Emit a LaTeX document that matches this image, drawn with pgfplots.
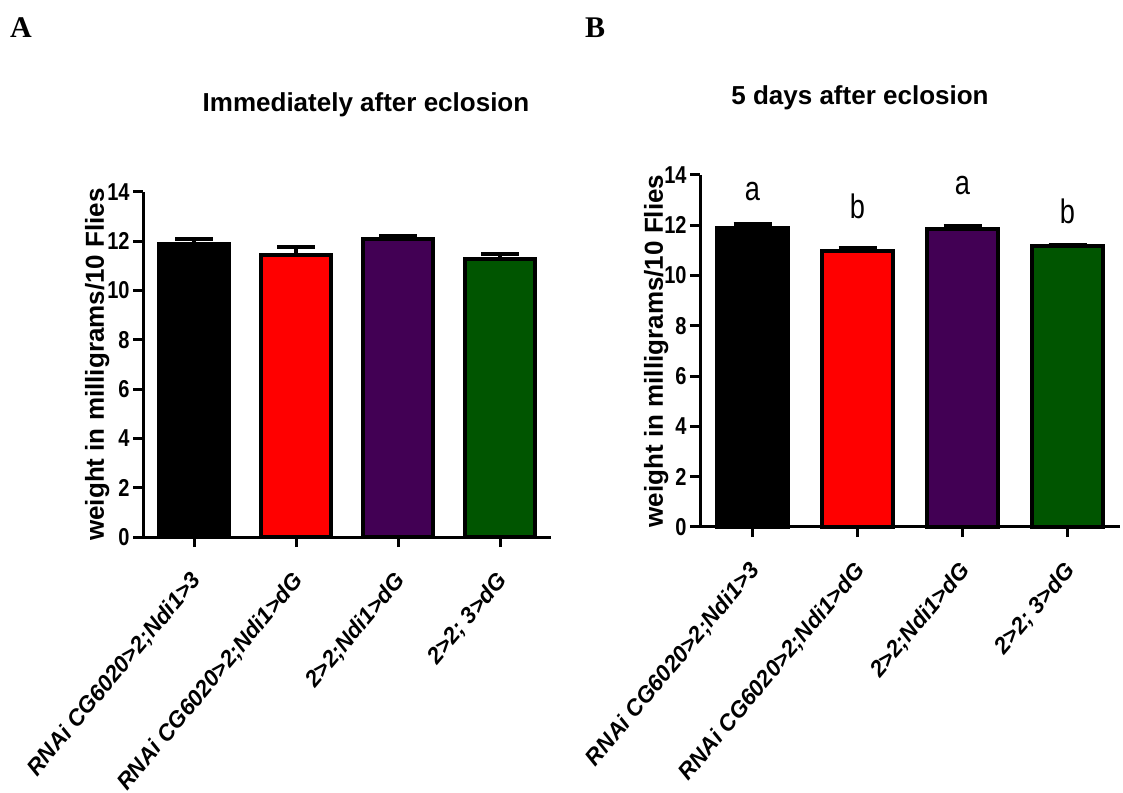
\documentclass[border=0pt]{standalone}
\usepackage{pgfplots}
\pgfplotsset{compat=1.18}
\usepackage{fontspec}
\setmainfont{Liberation Sans}
\newfontfamily\narrowfont[FakeStretch=0.82]{Liberation Sans}
\newfontfamily\tallfont[FakeStretch=0.8]{Liberation Sans}
\newfontfamily\panelfont{Liberation Serif}

\definecolor{barpurple}{RGB}{66,0,84}
\definecolor{bargreen}{RGB}{0,85,0}

\pgfplotsset{
  flyaxis/.style={
    scale only axis,
    ymin=0, ymax=14, xmin=-0.5, xmax=3.5,
    ytick={0,2,...,14}, yticklabels={0,2,4,6,8,10,12,14},
    xtick={0,1,2,3},
    xticklabels={RNAi CG6020>2;Ndi1>3, RNAi CG6020>2;Ndi1>dG, 2>2;Ndi1>dG, 2>2; 3>dG},
    axis x line*=bottom, axis y line*=left,
    axis line style={-, line width=1.5pt},
    every tick/.style={black, line width=1.5pt},
    major tick length=5pt,
    tick align=outside,
    yticklabel style={font=\narrowfont\bfseries\fontsize{12.2}{12}\selectfont, inner sep=1.5pt},
    xticklabel style={font=\bfseries\itshape\fontsize{11.4}{12}\selectfont, xshift=-2.5pt, yshift=-10pt, rotate=50, anchor=north east, inner sep=1pt},
    ylabel={weight in milligrams/10 Flies},
    ybar, bar width=0.68, bar shift=0pt,
    clip=false,
  },
  flyylabel/.style={every axis y label/.style={at={(axis description cs:#1,0.5)}, rotate=90, anchor=center, font=\bfseries\fontsize{13}{13}\selectfont}},
  flybar/.style={draw=black, line width=2pt, fill=#1,
    error bars/.cd, y dir=plus, y explicit,
    error bar style={line width=2pt, black},
    error mark options={rotate=90, mark size=9.5pt, line width=2pt, black}},
}

\begin{document}
\begin{tikzpicture}
\useasboundingbox (0,0) rectangle (561.5pt,396pt);

% panel letters and titles
\node[font=\panelfont\bfseries\fontsize{15}{15}\selectfont] at (10.5pt,382pt) {A};
\node[font=\panelfont\bfseries\fontsize{15}{15}\selectfont] at (297.5pt,382pt) {B};
\node[font=\bfseries\fontsize{13}{13}\selectfont] at (183pt,343.5pt) {Immediately after eclosion};
\node[font=\bfseries\fontsize{13}{13}\selectfont] at (430pt,347pt) {5 days after eclosion};

% A: immediately after eclosion
\begin{axis}[flyaxis, flyylabel=-0.112, at={(71.5pt,127.5pt)}, anchor=south west,
  width=204pt, height=172.5pt]
\addplot[flybar=black] coordinates {(0,11.9) +- (0,0.2)};
\addplot[flybar=red] coordinates {(1,11.45) +- (0,0.3)};
\addplot[flybar=barpurple] coordinates {(2,12.1) +- (0,0.1)};
\addplot[flybar=bargreen] coordinates {(3,11.3) +- (0,0.2)};
\end{axis}

% B: 5 days after eclosion
\begin{axis}[flyaxis, flyylabel=-0.104, at={(350pt,132.5pt)}, anchor=south west,
  width=210pt, height=176pt]
\addplot[flybar=black] coordinates {(0,11.88) +- (0,0.16)};
\addplot[flybar=red] coordinates {(1,10.96) +- (0,0.12)};
\addplot[flybar=barpurple] coordinates {(2,11.84) +- (0,0.12)};
\addplot[flybar=bargreen] coordinates {(3,11.16) +- (0,0.06)};
\node[font=\tallfont\fontsize{17}{17}\selectfont] at (axis cs:0,13.35) {a};
\node[font=\tallfont\fontsize{17}{17}\selectfont] at (axis cs:1,12.75) {b};
\node[font=\tallfont\fontsize{17}{17}\selectfont] at (axis cs:2,13.6) {a};
\node[font=\tallfont\fontsize{17}{17}\selectfont] at (axis cs:3,12.55) {b};
\end{axis}
\end{tikzpicture}
\end{document}
